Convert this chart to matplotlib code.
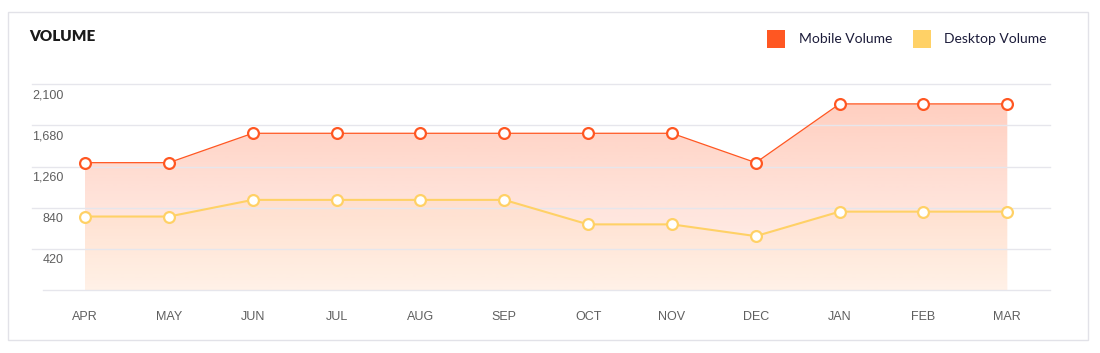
import numpy as np
import matplotlib
matplotlib.use("Agg")
import matplotlib.pyplot as plt
import matplotlib.colors as mcolors
from matplotlib.patches import Rectangle, PathPatch
from matplotlib.transforms import ScaledTranslation

months = ["APR", "MAY", "JUN", "JUL", "AUG", "SEP", "OCT", "NOV", "DEC", "JAN", "FEB", "MAR"]
mobile = [1300, 1300, 1600, 1600, 1600, 1600, 1600, 1600, 1300, 1900, 1900, 1900]
desktop = [750, 750, 920, 920, 920, 920, 670, 670, 550, 800, 800, 800]
yticks = [420, 840, 1260, 1680, 2100]
ytick_labels = ["420", "840", "1,260", "1,680", "2,100"]
series_names = ["Mobile Volume", "Desktop Volume"]

MOBILE_C = "#ff5722"
DESKTOP_C = "#ffd166"
GRID_C = "#e6e6ec"
TICK_C = "#5f5f5f"

W, H = 1100, 353
fig = plt.figure(figsize=(W / 100, H / 100), dpi=100)

def fx(px):
    return px / W

def fy(py):
    return 1 - py / H

# card border
fig.patches.append(Rectangle((fx(7.5), fy(340)), fx(1087.5) - fx(7.5), fy(11.5) - fy(340),
                             transform=fig.transFigure, facecolor="none",
                             edgecolor="#e2e2e8", lw=1.0, zorder=-1))

ax_left, ax_right, ax_top, ax_bot = 32, 1050, 84.3, 290
ax = fig.add_axes([fx(ax_left), fy(ax_bot), fx(ax_right) - fx(ax_left), fy(ax_top) - fy(ax_bot)])
ax.patch.set_alpha(0)
x = np.arange(len(months))
px_per = (1007.3 - 85) / 11
ax.set_xlim(-(85 - ax_left) / px_per, 11 + (ax_right - 1007.3) / px_per)
ax.set_ylim(0, 2100)
for s in ax.spines.values():
    s.set_visible(False)

# grid lines
for t in yticks:
    ax.axhline(t, color=GRID_C, lw=1.0, zorder=3, clip_on=False)
ax.axhline(0, xmin=(43 - ax_left) / (ax_right - ax_left), color=GRID_C, lw=1.0, zorder=3, clip_on=False)


def gradient_fill(xv, yv, color, a_bot, a_top, z):
    poly = ax.fill_between(xv, yv, 0, facecolor="none", edgecolor="none")
    path = poly.get_paths()[0]
    rgb = mcolors.to_rgb(color)
    n = 256
    img = np.zeros((n, 1, 4))
    img[:, :, :3] = rgb
    img[:, 0, 3] = np.linspace(a_bot, a_top, n)
    im = ax.imshow(img, aspect="auto", extent=[xv[0], xv[-1], 0, 2100], origin="lower",
                   zorder=z, interpolation="bilinear")
    patch = PathPatch(path, transform=ax.transData, facecolor="none", edgecolor="none")
    ax.add_patch(patch)
    im.set_clip_path(patch)


gradient_fill(x, mobile, MOBILE_C, 0.06, 0.31, 1)
gradient_fill(x, desktop, "#ffc266", 0.08, 0.13, 2)
ax.set_xlim(-(85 - ax_left) / px_per, 11 + (ax_right - 1007.3) / px_per)
ax.set_ylim(0, 2100)

ax.plot(x, mobile, color=MOBILE_C, lw=0.9, marker="o", markersize=7.8,
        markerfacecolor="white", markeredgecolor=MOBILE_C, markeredgewidth=1.6, zorder=5, clip_on=False)
ax.plot(x, desktop, color=DESKTOP_C, lw=1.5, marker="o", markersize=7.8,
        markerfacecolor="white", markeredgecolor=DESKTOP_C, markeredgewidth=1.6, zorder=5, clip_on=False)

# ticks
ax.set_yticks(yticks)
ax.set_yticklabels(ytick_labels)
ax.set_xticks(x)
ax.set_xticklabels(months)
ax.tick_params(axis="both", length=0, colors=TICK_C, labelsize=9)
ax.tick_params(axis="x", pad=15)
for lab in ax.get_yticklabels():
    lab.set_fontfamily("Liberation Sans")
    lab.set_transform(lab.get_transform() + ScaledTranslation(0.365, -0.095, fig.dpi_scale_trans))
for lab in ax.get_xticklabels():
    lab.set_fontfamily("Liberation Sans")

# title
fig.text(fx(29), fy(36.5), "VOLUME", fontsize=11, fontweight="heavy", family="Lato",
         color="#1a1a1a", ha="left", va="center")

# legend
leg_items = [(767, series_names[0], MOBILE_C, 799), (913, series_names[1], DESKTOP_C, 944)]
for sx, name, c, tx in leg_items:
    fig.patches.append(Rectangle((fx(sx), fy(48)), fx(18), 18 / H, transform=fig.transFigure,
                                 facecolor=c, edgecolor="none", zorder=2))
    fig.text(fx(tx), fy(39), name, fontsize=10, family="Lato", color="#1c1c3a",
             ha="left", va="center")

fig.savefig("out.png", dpi=100)
